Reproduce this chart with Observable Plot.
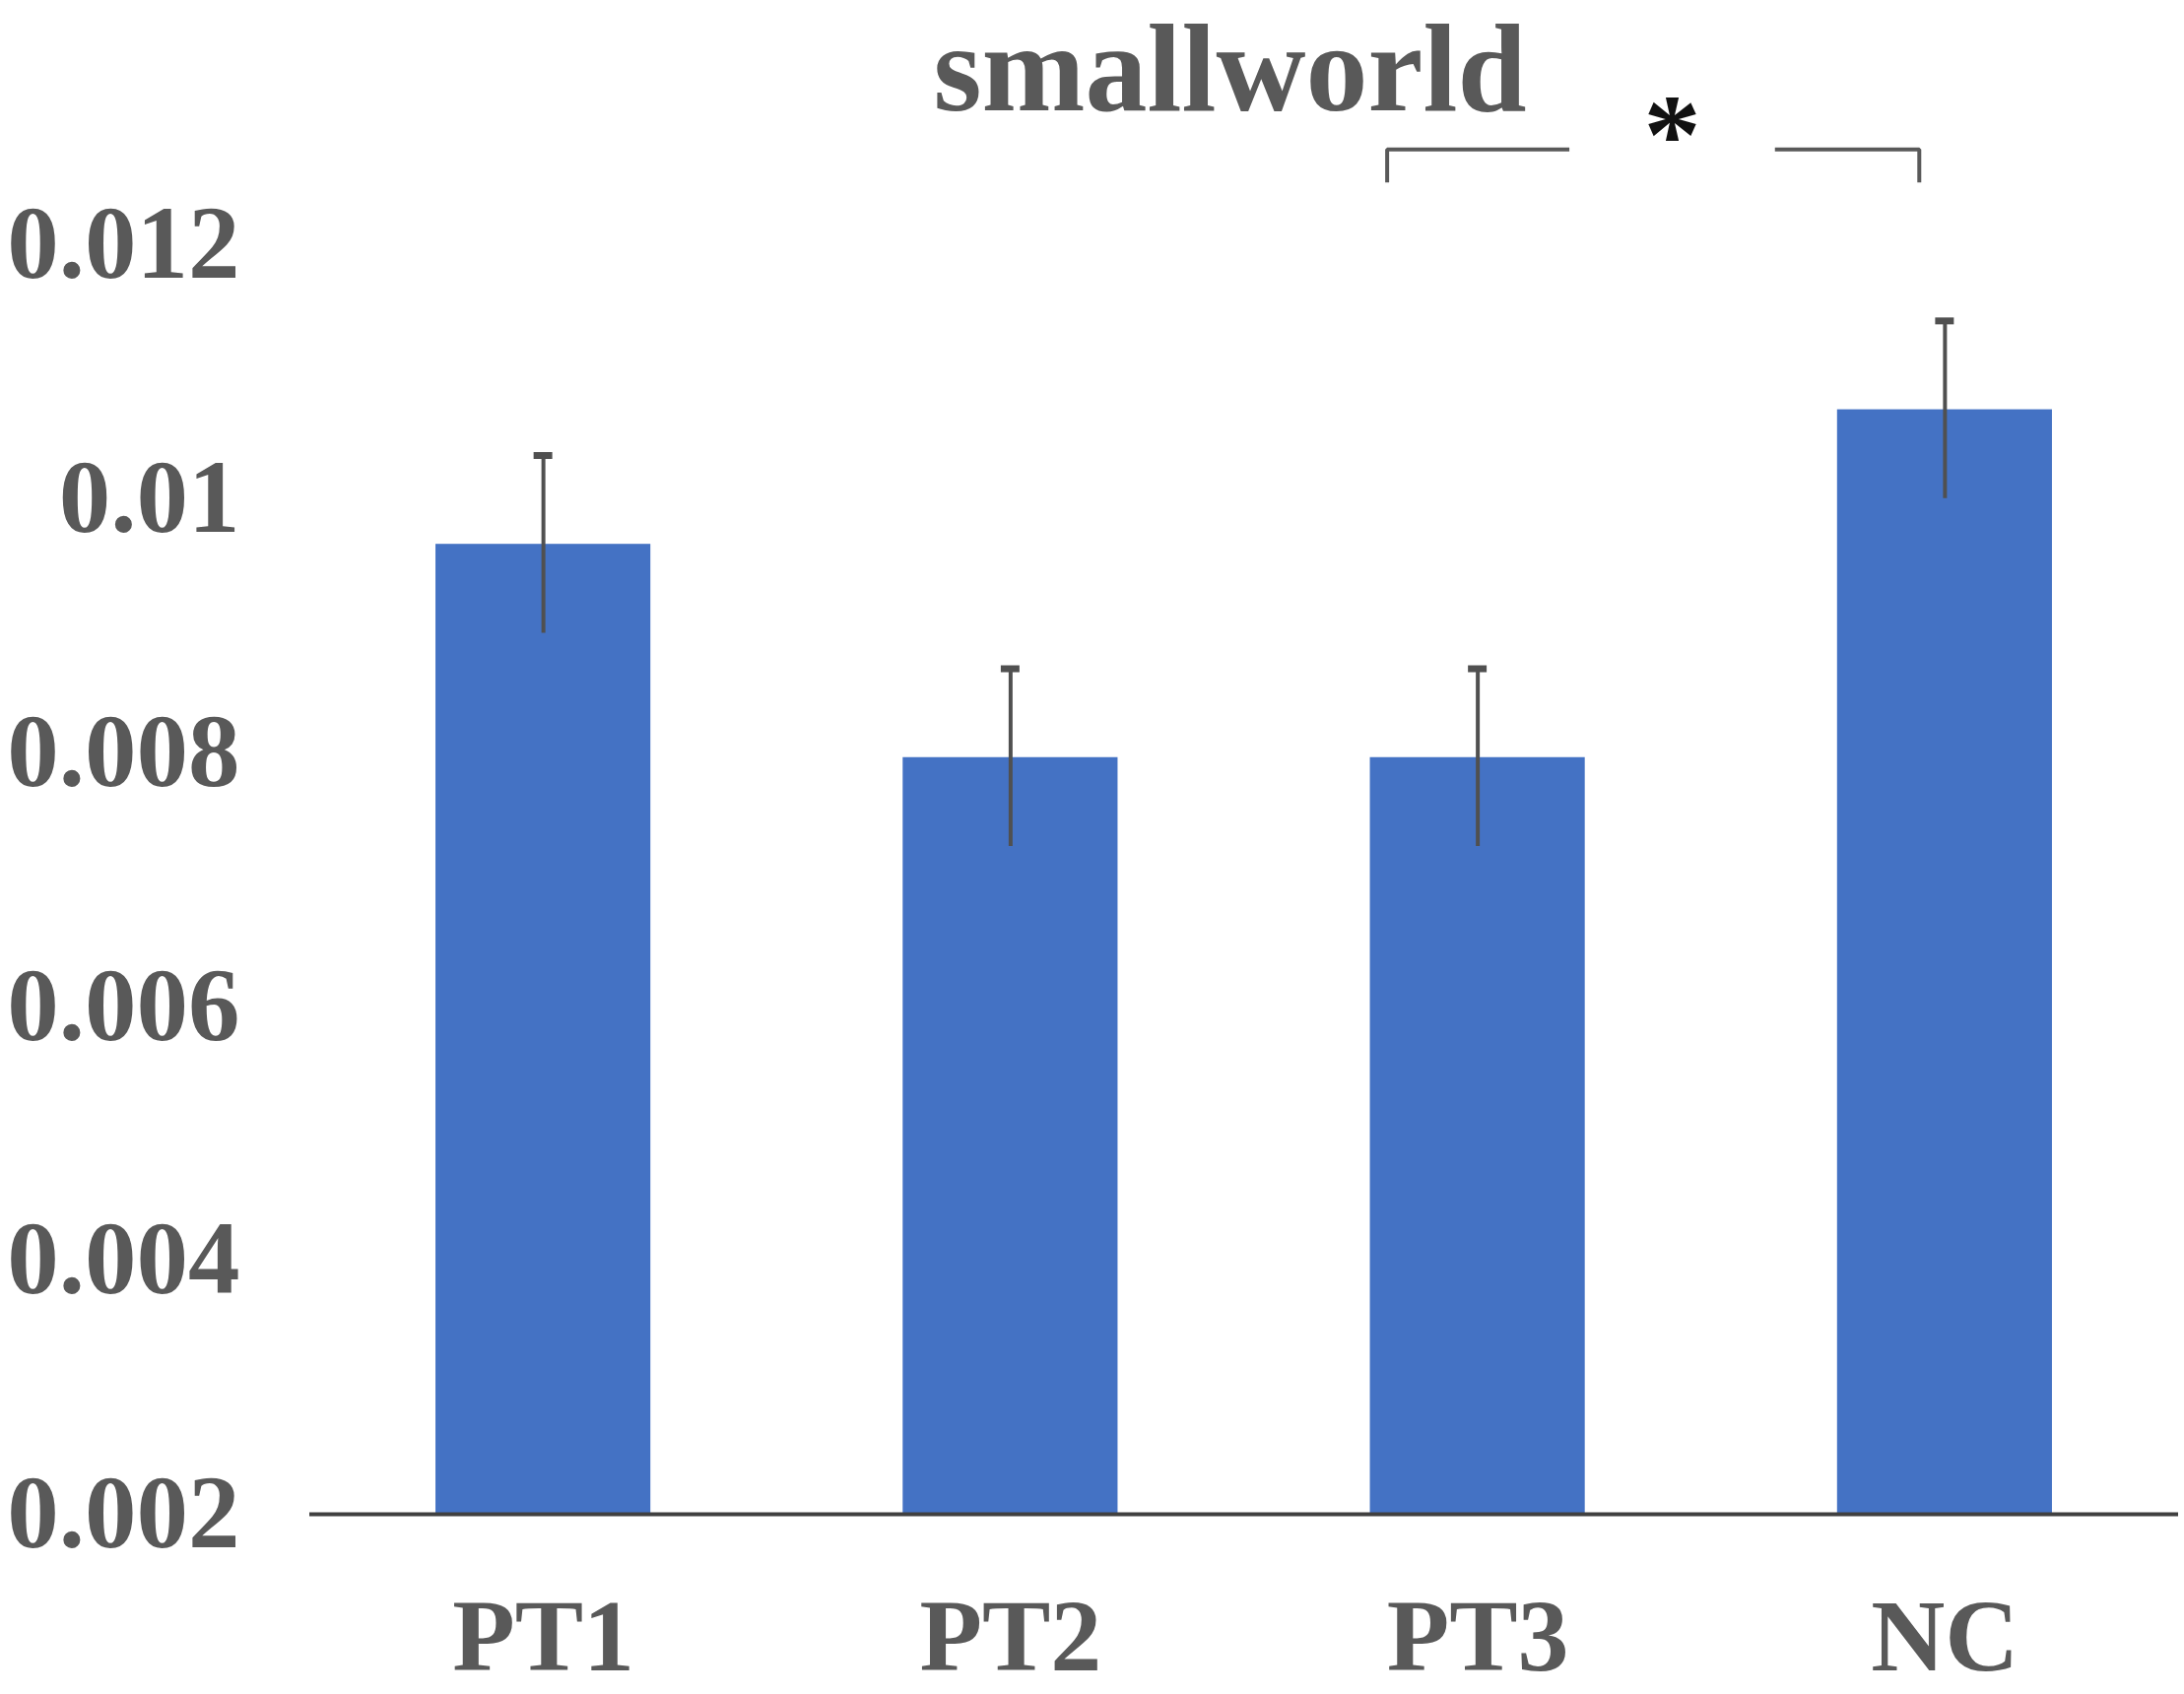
<!DOCTYPE html>
<html>
<head>
<meta charset="utf-8">
<script src="https://cdn.jsdelivr.net/npm/d3@7"></script>
<script src="https://cdn.jsdelivr.net/npm/@observablehq/plot@0.6"></script>
<style>
  html, body { margin: 0; padding: 0; background: #fff; }
  #wrap { position: relative; width: 2217px; height: 1720px; }
  #title {
    position: absolute; left: 314px; right: 6px; top: 0;
    text-align: center; font-family: 'Liberation Serif', 'Times New Roman', Times, serif; font-weight: bold;
    font-size: 126px; line-height: 139px; color: #595959; transform: translateX(-14px);
  }
  #chart { position: absolute; left: 0; top: 0; }
  #chart svg, #chart svg text { font-family: 'Liberation Serif', 'Times New Roman', Times, serif; }
</style>
</head>
<body>
<div id="wrap">
  <div id="chart"></div>
  <div id="title">smallworld</div>
</div>
<script>
const categories = ["PT1", "PT2", "PT3", "NC"];
const means = [0.00964, 0.00796, 0.00796, 0.0107];
const errors = [0.0007, 0.0007, 0.0007, 0.0007];
const yTicks = [0.002, 0.004, 0.006, 0.008, 0.01, 0.012];
const yTickLabels = ["0.002", "0.004", "0.006", "0.008", "0.01", "0.012"];
// significance bracket between PT3 and NC
const sigPair = ["PT3", "NC"];
const sigLabel = "*";

const data = categories.map((c, i) => ({cat: c, i, mean: means[i], err: errors[i]}));
const half = 0.23;
const capHalf = 0.02;

const i3 = categories.indexOf(sigPair[0]);
const i4 = categories.indexOf(sigPair[1]);
const bracketTop = 0.01275, bracketBottom = 0.01249, starY = 0.01300;
const leftArm = [{x: i3 - 0.194, y: bracketBottom}, {x: i3 - 0.194, y: bracketTop}, {x: i3 + 0.196, y: bracketTop}];
const rightArm = [{x: i4 - 0.364, y: bracketTop}, {x: i4 - 0.055, y: bracketTop}, {x: i4 - 0.055, y: bracketBottom}];

const serif = "'Liberation Serif', 'Times New Roman', Times, serif";
const chart = Plot.plot({
  width: 2217,
  height: 1720,
  marginTop: 248,
  marginBottom: 183,
  marginLeft: 314,
  marginRight: 6,
  style: {fontFamily: serif, background: "transparent", overflow: "visible"},
  x: {domain: [-0.5, 3.5], ticks: categories.map((c, i) => i), tickFormat: i => categories[i], label: null},
  y: {domain: [0.002, 0.012], ticks: yTicks, tickFormat: d => yTickLabels[yTicks.indexOf(d)], label: null},
  marks: [
    Plot.rectY(data, {x1: d => d.i - half, x2: d => d.i + half, y1: 0.002, y2: "mean", fill: "#4472C4"}),
    Plot.ruleX(data, {x: "i", y1: d => d.mean - d.err, y2: d => d.mean + d.err, stroke: "#505050", strokeWidth: 4}),
    Plot.ruleY(data, {y: d => d.mean + d.err, x1: d => d.i - capHalf, x2: d => d.i + capHalf, stroke: "#505050", strokeWidth: 7}),
    Plot.ruleY([0.002], {stroke: "#404040", strokeWidth: 4}),
    Plot.axisY({ticks: yTicks, tickFormat: d => yTickLabels[yTicks.indexOf(d)], tickSize: 0, tickPadding: 71, fontSize: 105, fontWeight: "bold", fill: "#595959", label: null}),
    Plot.axisX({ticks: [0, 1, 2, 3], tickFormat: i => categories[i], tickSize: 0, tickPadding: 85, fontSize: 104, fontWeight: "bold", fill: "#595959", label: null}),
    Plot.line(leftArm, {x: "x", y: "y", stroke: "#595959", strokeWidth: 4, strokeLinejoin: "miter", strokeLinecap: "butt"}),
    Plot.line(rightArm, {x: "x", y: "y", stroke: "#595959", strokeWidth: 4, strokeLinejoin: "miter", strokeLinecap: "butt"}),
    Plot.text([sigLabel], {x: (i3 + i4) / 2 - 0.084, y: starY, text: d => d, fontSize: 116, fontWeight: "bold", fill: "#111", lineAnchor: "middle", dy: 19})
  ]
});
document.getElementById("chart").appendChild(chart);
</script>
</body>
</html>
